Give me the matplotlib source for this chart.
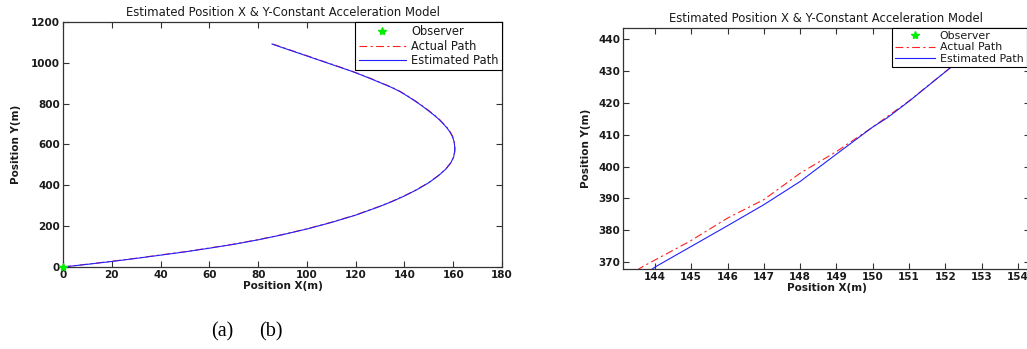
import matplotlib
matplotlib.use("Agg")
import matplotlib.pyplot as plt

plt.rcParams['font.family'] = ['DejaVu Sans']

# --- left panel (a): full trajectory ---
est_x = [0, 10, 20, 30, 40, 50, 60, 70, 80, 90, 100, 110, 120, 130, 135, 140, 145, 150,
         154, 157, 159, 160.2, 160.6, 160.6, 160.5, 160.2, 159.6, 158.7, 157.5, 156.0, 154.4,
         152.5, 150.4, 148.2, 145.9, 143.4, 140.8, 138.0, 134.6, 130.6, 126.6, 122.4, 118.0,
         113.1, 108.2, 103.3, 98.4, 93.5, 88.6, 85.7]
est_y = [0, 13, 27, 42, 58, 74, 92, 111, 133, 158, 186, 218, 254, 297, 321, 348, 378, 413,
         448, 480, 510, 540, 570, 585, 600, 620, 640, 660, 680, 700, 720, 740, 760, 780,
         800, 820, 840, 860, 880, 900, 920, 940, 960, 980, 1000, 1020, 1040, 1060, 1080, 1092]

act_x = [0, 10, 20, 30, 40, 50, 60, 70, 80, 90, 100, 110, 120, 130, 135, 140, 145, 150,
         154, 157, 159, 160.3, 160.7, 160.7, 160.6, 160.3, 159.7, 158.8, 157.6, 156.1, 154.5,
         152.6, 150.5, 148.3, 146.0, 143.5, 140.9, 138.1, 134.7, 130.7, 126.7, 122.5, 118.1,
         113.2, 108.3, 103.4, 98.5, 93.6, 88.7, 85.8]
act_y = [0, 14, 28, 43, 59, 75, 93, 112, 134, 159, 187, 219, 255, 298, 322, 349, 379, 414,
         449, 481, 511, 541, 571, 586, 601, 621, 641, 661, 681, 701, 721, 741, 761, 781,
         801, 821, 841, 861, 881, 901, 921, 941, 961, 981, 1001, 1021, 1041, 1061, 1081, 1093]

observer_x = [0]
observer_y = [0]

# --- right panel (b): zoom near x = 144..154 ---
zoom_est_x = [143.9, 144.0, 145.0, 146.0, 147.0, 148.0, 149.0, 150.0, 150.4, 151.0, 152.07, 153.0, 154.0, 154.5]
zoom_est_y = [367.6, 368.4, 374.9, 381.4, 388.0, 395.3, 403.9, 412.4, 415.3, 420.5, 430.4, 439.0, 447.5, 451.5]
zoom_act_x = [143.5, 143.67, 144.96, 146.0, 147.0, 148.0, 149.0, 150.0, 151.0, 152.0, 153.0, 154.0, 154.5]
zoom_act_y = [367.4, 368.6, 376.5, 383.8, 389.6, 397.9, 404.7, 412.4, 420.6, 429.8, 439.0, 448.0, 452.0]

title = 'Estimated Position X & Y-Constant Acceleration Model'
spine_c = '#333333'
text_c = '#1a1a1a'
dashdot = (0, (7, 3, 2, 3))

fig = plt.figure(figsize=(10.27, 3.49), dpi=100)
ax1 = fig.add_axes([0.06134, 0.235, 0.4275, 0.702])
ax2 = fig.add_axes([0.6066, 0.2292, 0.3963, 0.6905])


def style(ax, xlim, ylim, xticks, yticks, ylabelpad):
    ax.set_xlim(*xlim)
    ax.set_ylim(*ylim)
    ax.set_xticks(xticks)
    ax.set_yticks(yticks)
    ax.tick_params(direction='in', top=True, right=True, length=4, width=0.8,
                   color=spine_c, labelsize=7.5, labelcolor=text_c, pad=2)
    for lab in ax.get_xticklabels() + ax.get_yticklabels():
        lab.set_fontweight('bold')
    for s in ax.spines.values():
        s.set_color(spine_c)
        s.set_linewidth(0.9)
    ax.set_title(title, fontsize=8.4, color=text_c, pad=4)
    ax.set_xlabel('Position X(m)', fontsize=7.5, fontweight='bold', color=text_c, labelpad=1)
    ax.set_ylabel('Position Y(m)', fontsize=7.5, fontweight='bold', color=text_c, labelpad=ylabelpad)


ax1.plot(observer_x, observer_y, '*', color='#00ee00', ms=6, label='Observer', clip_on=False, zorder=5)
ax1.plot(act_x, act_y, linestyle=dashdot, color='#ff2020', lw=0.8, label='Actual Path')
ax1.plot(est_x, est_y, '-', color='#2020ff', lw=0.8, label='Estimated Path')

ax2.plot(observer_x, observer_y, '*', color='#00ee00', ms=6, label='Observer')
ax2.plot(zoom_act_x, zoom_act_y, linestyle=dashdot, color='#ff2020', lw=0.8, label='Actual Path')
ax2.plot(zoom_est_x, zoom_est_y, '-', color='#2020ff', lw=0.8, label='Estimated Path')

style(ax1, (0, 180), (0, 1200), range(0, 181, 20), range(0, 1201, 200), 7)
style(ax2, (143.12, 154.33), (367.8, 443.5), range(144, 155), range(370, 441, 10), 5)

leg_kw = dict(frameon=True, fancybox=False, edgecolor='black', framealpha=1,
              borderaxespad=0, borderpad=0.3, labelspacing=0.1, handletextpad=0.45)
leg1 = ax1.legend(loc='upper right', fontsize=8.3, handlelength=4.1, **leg_kw)
leg2 = ax2.legend(loc='upper left', bbox_to_anchor=(0.661, 1.0), fontsize=7.9,
                  handlelength=3.6, **leg_kw)
for leg in (leg1, leg2):
    leg.get_frame().set_linewidth(0.8)
    for t in leg.get_texts():
        t.set_color(text_c)

fig.text(222 / 1027, 1 - 332 / 349, '(a)', family='Liberation Serif', fontsize=14.5,
         ha='center', va='center', color='black')
fig.text(271 / 1027, 1 - 332 / 349, '(b)', family='Liberation Serif', fontsize=14.5,
         ha='center', va='center', color='black')

fig.savefig('out.png', dpi=100)
